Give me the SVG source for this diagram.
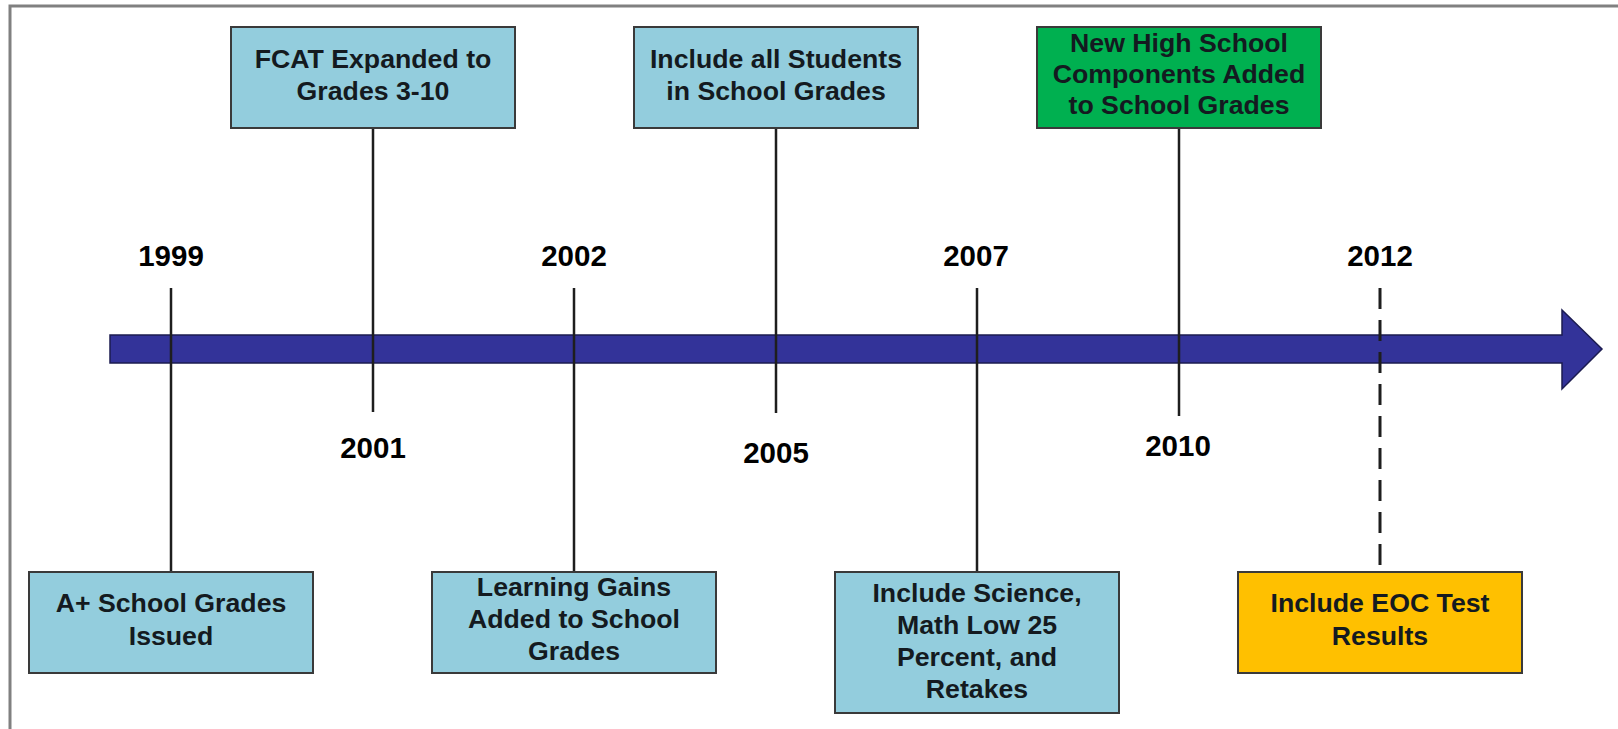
<svg xmlns="http://www.w3.org/2000/svg" width="1618" height="729" viewBox="0 0 1618 729">
<style>
.box{stroke:#3a3a3a;stroke-width:2}
.blue{fill:#93CDDD}
.green{fill:#00B050}
.orange{fill:#FFC000}
.t{font-family:"Liberation Sans",Arial,sans-serif;font-weight:bold;font-size:26.7px;fill:#141a20;text-anchor:middle}
.yr{font-family:"Liberation Sans",Arial,sans-serif;font-weight:bold;font-size:29.5px;fill:#000;text-anchor:middle}
.ln{stroke:#1e1e1e;stroke-width:2.5;fill:none}
.dash{stroke:#1e1e1e;stroke-width:3;fill:none;stroke-dasharray:21 11}
</style>
<rect x="0" y="0" width="1618" height="729" fill="#fff"/>
<rect x="10" y="6" width="1700" height="800" fill="none" stroke="#808080" stroke-width="3"/>
<g id="timeline">
<path d="M110,335 H1562 V310 L1602,349 L1562,389 V363 H110 Z" fill="#333399" stroke="#1c1c50" stroke-width="1.5"/>
</g>
<g id="connectors">
<line class="ln" x1="171" y1="288" x2="171" y2="572"/>
<line class="ln" x1="373" y1="128" x2="373" y2="412"/>
<line class="ln" x1="574" y1="288" x2="574" y2="572"/>
<line class="ln" x1="776" y1="128" x2="776" y2="413"/>
<line class="ln" x1="977" y1="288" x2="977" y2="572"/>
<line class="ln" x1="1179" y1="128" x2="1179" y2="416"/>
<line class="dash" x1="1380" y1="288" x2="1380" y2="572"/>
</g>
<g id="years">
<text class="yr" x="171" y="266">1999</text>
<text class="yr" x="373" y="458">2001</text>
<text class="yr" x="574" y="266">2002</text>
<text class="yr" x="776" y="463">2005</text>
<text class="yr" x="976" y="266">2007</text>
<text class="yr" x="1178" y="456">2010</text>
<text class="yr" x="1380" y="266">2012</text>
</g>
<g id="n1999">
<rect class="box blue" x="29" y="572" width="284" height="101"/>
<text class="t" x="171" y="612">A+ School Grades</text>
<text class="t" x="171" y="645">Issued</text>
</g>
<g id="n2001">
<rect class="box blue" x="231" y="27" width="284" height="101"/>
<text class="t" x="373" y="68">FCAT Expanded to</text>
<text class="t" x="373" y="100">Grades 3-10</text>
</g>
<g id="n2002">
<rect class="box blue" x="432" y="572" width="284" height="101"/>
<text class="t" x="574" y="596">Learning Gains</text>
<text class="t" x="574" y="628">Added to School</text>
<text class="t" x="574" y="660">Grades</text>
</g>
<g id="n2005">
<rect class="box blue" x="634" y="27" width="284" height="101"/>
<text class="t" x="776" y="68">Include all Students</text>
<text class="t" x="776" y="100">in School Grades</text>
</g>
<g id="n2007">
<rect class="box blue" x="835" y="572" width="284" height="141"/>
<text class="t" x="977" y="602">Include Science,</text>
<text class="t" x="977" y="634">Math Low 25</text>
<text class="t" x="977" y="666">Percent, and</text>
<text class="t" x="977" y="698">Retakes</text>
</g>
<g id="n2010">
<rect class="box green" x="1037" y="27" width="284" height="101"/>
<text class="t" x="1179" y="52">New High School</text>
<text class="t" x="1179" y="83">Components Added</text>
<text class="t" x="1179" y="114">to School Grades</text>
</g>
<g id="n2012">
<rect class="box orange" x="1238" y="572" width="284" height="101"/>
<text class="t" x="1380" y="612">Include EOC Test</text>
<text class="t" x="1380" y="645">Results</text>
</g>
</svg>
